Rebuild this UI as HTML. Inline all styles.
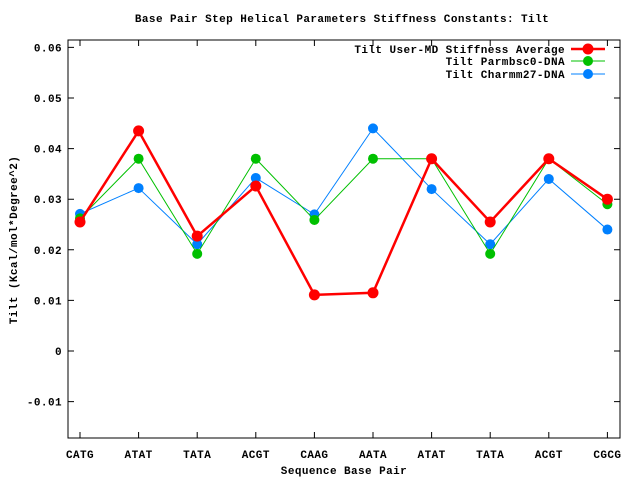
<!DOCTYPE html>
<html><head><meta charset="utf-8"><style>
body{margin:0;background:#fff}
svg{display:block;font-family:"Liberation Mono","DejaVu Sans Mono",monospace;font-weight:bold;font-size:11px;letter-spacing:0.42px}
</style></head><body>
<svg width="640" height="480" xmlns="http://www.w3.org/2000/svg">
<rect width="640" height="480" fill="#fff"/>
<text x="342" y="22" text-anchor="middle">Base Pair Step Helical Parameters Stiffness Constants: Tilt</text>
<g id="axes"></g>
<g id="series"></g>
<g id="legend"></g>
<text x="344" y="474" text-anchor="middle">Sequence Base Pair</text>
<text transform="translate(17,240) rotate(-90)" text-anchor="middle">Tilt (Kcal/mol*Degree^2)</text>
</svg>
<script>
const categories=["CATG","ATAT","TATA","ACGT","CAAG","AATA","ATAT","TATA","ACGT","CGCG"];
const userMD=[0.0255,0.0435,0.0227,0.0326,0.0111,0.0115,0.038,0.0255,0.038,0.030];
const parmbsc0=[0.0262,0.038,0.0192,0.038,0.0259,0.038,0.038,0.0192,0.038,0.029];
const charmm27=[0.0271,0.0322,0.0211,0.0342,0.027,0.044,0.032,0.0211,0.034,0.024];
const yTicks=[-0.01,0,0.01,0.02,0.03,0.04,0.05,0.06];
const yTickLabels=["-0.01","0","0.01","0.02","0.03","0.04","0.05","0.06"];
const NS="http://www.w3.org/2000/svg";
const L=68,R=620,T=40,B=438;
function xs(i){return 80+i*(607.4-80)/(categories.length-1);}
function ys(v){return 351-v*5060;}
function mk(tag,attrs,parent){const e=document.createElementNS(NS,tag);for(const k in attrs)e.setAttribute(k,attrs[k]);parent.appendChild(e);return e;}
const ax=document.getElementById('axes');
const frame=mk('rect',{x:L,y:T,width:R-L,height:B-T,fill:'none',stroke:'#000','stroke-width':1},ax);


yTicks.forEach((v,k)=>{const y=ys(v);
 const t=mk('path',{d:`M${L} ${y}h6M${R} ${y}h-6`,stroke:'#000'},ax);
 
 
 const l=mk('text',{x:L-6,y:y+4,'text-anchor':'end'},ax);l.textContent=yTickLabels[k];
 
 
});
categories.forEach((c,i)=>{const x=xs(i);
 const t=mk('path',{d:`M${x} ${B}v-6M${x} ${T}v6`,stroke:'#000'},ax);
 
 
 const l=mk('text',{x:x,y:B+20,'text-anchor':'middle'},ax);l.textContent=c;
 
 
});
const sg=document.getElementById('series');
const lg=document.getElementById('legend');
const defs=[[charmm27,'#0080ff',1,5,'Tilt Charmm27-DNA',74,'charmm27'],[parmbsc0,'#00c000',1,5,'Tilt Parmbsc0-DNA',61,'parmbsc0'],[userMD,'#ff0000',2.5,5.5,'Tilt User-MD Stiffness Average',49,'user-md']];
defs.forEach(([d,col,w,r,name,ly,id])=>{
 const pl=mk('polyline',{points:d.map((v,i)=>xs(i)+','+ys(v)).join(' '),fill:'none',stroke:col,'stroke-width':w},sg);
 
 
 d.forEach((v,i)=>{const c=mk('circle',{cx:xs(i),cy:ys(v),r:r,fill:col},sg);
  
  });
 const ll=mk('line',{x1:571,y1:ly,x2:605,y2:ly,stroke:col,'stroke-width':w},lg);
 
 
 const lc=mk('circle',{cx:588,cy:ly,r:r,fill:col},lg);
 
 
 const lt=mk('text',{x:565,y:ly+4,'text-anchor':'end'},lg);lt.textContent=name;
 
 
});
</script>
</body></html>
